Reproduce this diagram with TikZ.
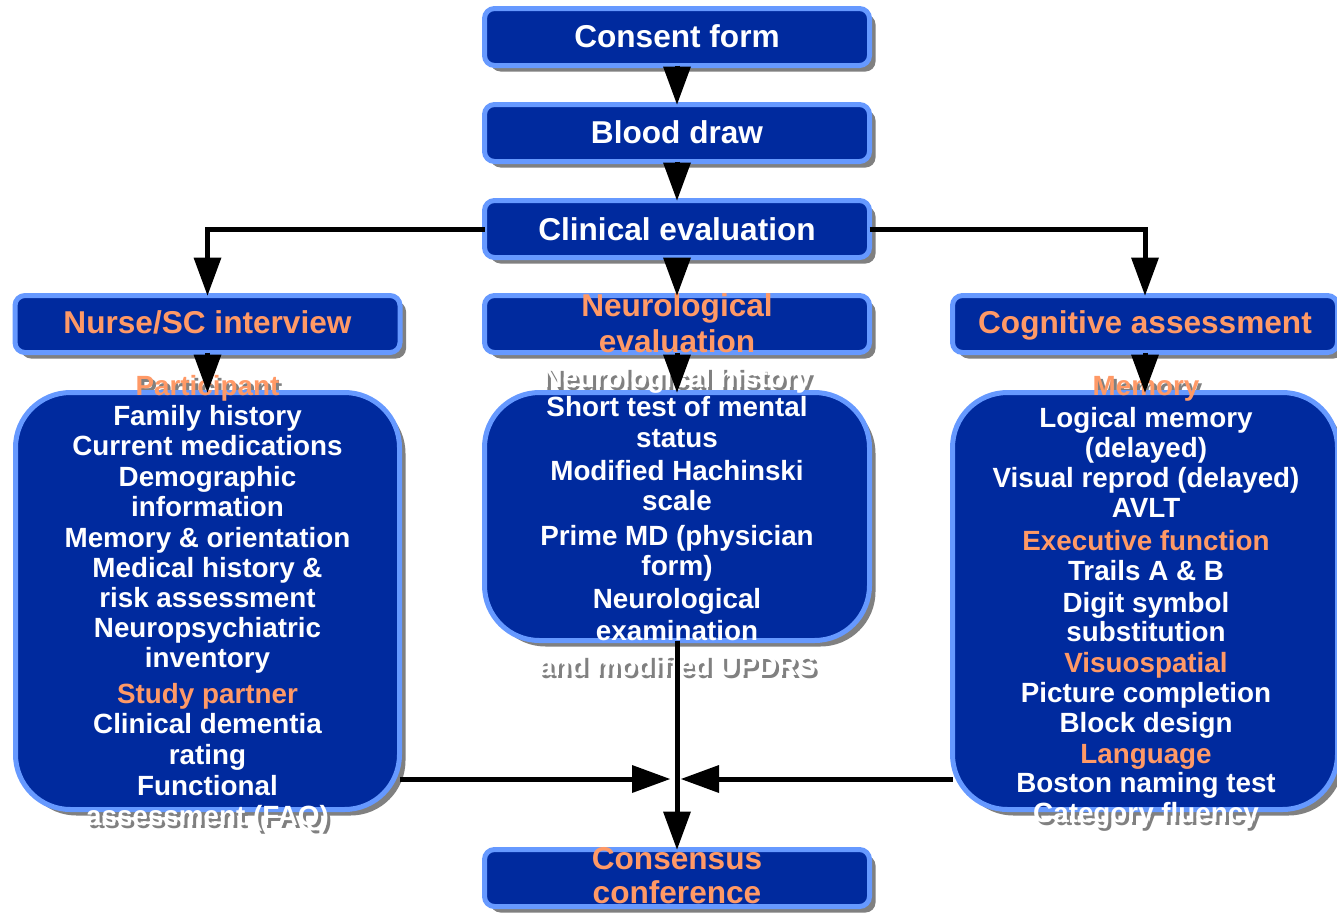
\documentclass[tikz,border=0pt]{standalone}
\usepackage{fontspec}
\setmainfont{Liberation Sans}
\usetikzlibrary{arrows.meta,shadows,calc}
\pgfdeclarelayer{bg}
\pgfdeclarelayer{shade}
\pgfsetlayers{bg,shade,main}
\definecolor{boxfill}{HTML}{002A9E}
\definecolor{edgeblue}{HTML}{6699FF}
\definecolor{shadowgray}{HTML}{808080}
\definecolor{accent}{HTML}{FF9966}

% plain line of text
\newcommand\boxtext[5]{\node[#4] (#1) at (#2,#3) {#5};}
% line of text running past a panel edge: a grey copy lies under the panels
\newcommand\shadedtext[5]{%
  \begin{pgfonlayer}{shade}
    \node[#4, shadowtext] (#1-s) at (#2+3,#3+3) {#5};
  \end{pgfonlayer}
  \node[#4] (#1) at (#2,#3) {#5};}

\tikzset{
  panel/.style={draw=edgeblue, line width=5pt, fill=boxfill,
    rounded corners=10pt, minimum width=385pt, minimum height=57pt,
    inner sep=0pt, outer sep=0pt,
    drop shadow={shadow xshift=6pt, shadow yshift=-6pt,
      fill=shadowgray, opacity=1}},
  bigpanel/.style={panel, rounded corners=55pt},
  txt/.style={anchor=base, inner sep=0pt, outer sep=0pt, text=white,
    font=\fontsize{27.8pt}{30pt}\selectfont\bfseries},
  head/.style={txt, text=accent},
  title/.style={txt, font=\fontsize{31.6pt}{34pt}\selectfont\bfseries},
  otitle/.style={title, text=accent},
  shadowtext/.style={text=shadowgray},
  arr/.style={line width=5pt,
    -{Triangle[length=38pt, width=28pt, line width=0pt]}}
}

\begin{document}
\begin{tikzpicture}[x=1pt, y=-1pt]
\useasboundingbox (0,0) rectangle (1337,913);
\clip (0,0) rectangle (1337,913);
\begin{pgfonlayer}{bg}
  \fill[white] (0,0) rectangle (1337,913);
\end{pgfonlayer}

% panels
\node[panel] (consent) at (677,37) {};
\node[panel] (blood) at (677,133) {};
\node[panel] (clin) at (677,229) {};
\node[panel] (nurse) at (207.5,324) {};
\node[panel] (neuro) at (677,324) {};
\node[panel] (cog) at (1145,324) {};
\node[bigpanel, minimum width=384pt, minimum height=417pt] (partbox) at (207.5,601) {};
\node[bigpanel, minimum height=248pt] (neurobox) at (677,516.5) {};
\node[bigpanel, minimum height=417pt] (cogbox) at (1145,601) {};
\node[panel] (consensus) at (677,878) {};

% titles
\boxtext{tconsent}{677}{47}{title}{Consent form}
\boxtext{tblood}{677}{143}{title}{Blood draw}
\boxtext{tclin}{677}{240}{title}{Clinical evaluation}
\boxtext{tnurse}{207.5}{333}{otitle}{Nurse/SC interview}
\boxtext{tneuroa}{677}{316}{otitle}{Neurological}
\boxtext{tneurob}{677}{352}{otitle}{evaluation}
\boxtext{tcog}{1145}{333}{otitle}{Cognitive assessment}
\boxtext{tconsa}{677}{869}{otitle}{Consensus}
\boxtext{tconsb}{677}{903}{otitle}{conference}

% nurse / study coordinator items
\shadedtext{la}{207.5}{395}{head}{Participant}
\boxtext{lb}{207.5}{425}{txt}{Family history}
\boxtext{lc}{207.5}{455}{txt}{Current medications}
\boxtext{ld}{207.5}{486}{txt}{Demographic}
\boxtext{le}{207.5}{516}{txt}{information}
\boxtext{lf}{207.5}{547}{txt}{Memory \& orientation}
\boxtext{lg}{207.5}{577}{txt}{Medical history \&}
\boxtext{lh}{207.5}{607}{txt}{risk assessment}
\boxtext{li}{207.5}{637}{txt}{Neuropsychiatric}
\boxtext{lj}{207.5}{667}{txt}{inventory}
\boxtext{lk}{207.5}{703}{head}{Study partner}
\boxtext{ll}{207.5}{733}{txt}{Clinical dementia}
\boxtext{lm}{207.5}{764}{txt}{rating}
\boxtext{ln}{207.5}{795}{txt}{Functional}
\shadedtext{lo}{207.5}{825}{txt}{assessment (FAQ)}

% neurological items
\shadedtext{ma}{677}{387}{txt}{Neurological history}
\boxtext{mb}{677}{416}{txt}{Short test of mental}
\boxtext{mc}{677}{447}{txt}{status}
\boxtext{md}{677}{480}{txt}{Modified Hachinski}
\boxtext{me}{677}{510}{txt}{scale}
\boxtext{mf}{677}{545}{txt}{Prime MD (physician}
\boxtext{mg}{677}{575}{txt}{form)}
\boxtext{mh}{677}{608}{txt}{Neurological}
\boxtext{mi}{677}{640}{txt}{examination}
\shadedtext{mj}{677}{675}{txt}{and modified UPDRS}

% cognitive items
\shadedtext{ra}{1146}{395}{head}{Memory}
\boxtext{rb}{1146}{427}{txt}{Logical memory}
\boxtext{rc}{1146}{457}{txt}{(delayed)}
\boxtext{rd}{1146}{487}{txt}{Visual reprod (delayed)}
\boxtext{re}{1146}{517}{txt}{AVLT}
\boxtext{rf}{1146}{550}{head}{Executive function}
\boxtext{rg}{1146}{580}{txt}{Trails A \& B}
\boxtext{rh}{1146}{612}{txt}{Digit symbol}
\boxtext{ri}{1146}{641}{txt}{substitution}
\boxtext{rj}{1146}{672}{head}{Visuospatial}
\boxtext{rk}{1146}{702}{txt}{Picture completion}
\boxtext{rl}{1146}{732}{txt}{Block design}
\boxtext{rm}{1146}{763}{head}{Language}
\boxtext{rn}{1146}{792}{txt}{Boston naming test}
\shadedtext{ro}{1146}{822}{txt}{Category fluency}

% connectors
\coordinate (hubL) at (670,779);
\coordinate (hubR) at (681,779);
\draw[arr] (consent) -- (blood);
\draw[arr] (blood) -- (clin);
\draw[arr] (clin) -- (neuro);
\draw[arr] (clin.west) -| (nurse.north);
\draw[arr] (clin.east) -| (cog.north);
\draw[arr] (nurse) -- (partbox);
\draw[arr] (neuro) -- (neurobox);
\draw[arr] (cog) -- (cogbox);
\draw[arr] (partbox.east |- hubL) -- (hubL);
\draw[arr] (cogbox.west |- hubR) -- (hubR);
\draw[arr] (neurobox) -- (consensus);
\end{tikzpicture}
\end{document}
